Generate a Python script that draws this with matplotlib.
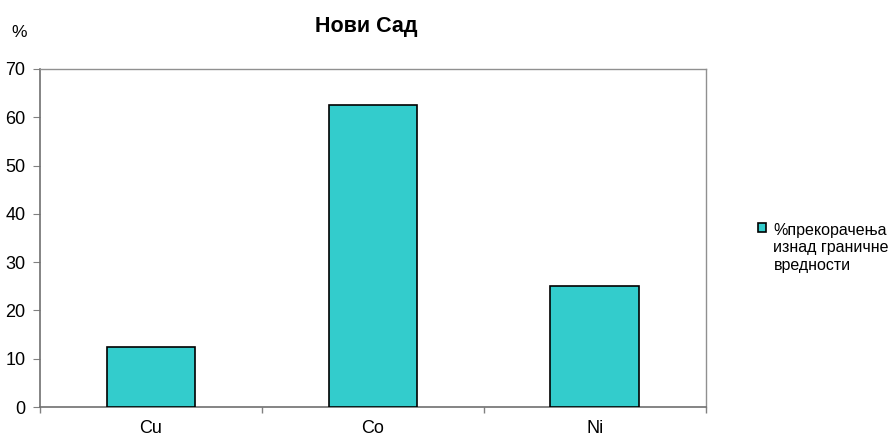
import matplotlib
matplotlib.use("Agg")
import matplotlib.pyplot as plt
import numpy as np

plt.rcParams['font.family'] = ['Liberation Sans', 'DejaVu Sans']

metals = ["Cu", "Co", "Ni"]
exceed = [12.5, 62.5, 25.0]
series_name = "%прекорачења\nизнад граничне\nвредности"

fig = plt.figure(figsize=(8.89, 4.34), dpi=100)
ax = fig.add_axes([0.045, 0.0622, 0.749, 0.779])

x = np.arange(len(metals))
ax.bar(x, exceed, width=0.4, color="#33CCCC", edgecolor="black", linewidth=1.2,
       label=series_name, zorder=3)

ax.set_xlim(-0.5, 2.5)
ax.set_ylim(0, 70)
ax.set_yticks(range(0, 71, 10))
ax.set_xticks(x)
ax.set_xticklabels(metals, fontsize=13)
ax.set_xticks(np.arange(-0.5, 2.6, 1), minor=True)
ax.tick_params(axis="x", which="major", length=0, pad=9)
ax.tick_params(axis="x", which="minor", length=4.5, color="#808080", width=1)
ax.tick_params(axis="y", length=5, color="#808080", labelsize=13, pad=5.5)

for side in ["left", "bottom"]:
    ax.spines[side].set_color("#707070")
    ax.spines[side].set_linewidth(1.2)
for side in ["top", "right"]:
    ax.spines[side].set_color("#909090")
    ax.spines[side].set_linewidth(1.0)

fig.text(0.412, 0.94, "Нови Сад", fontsize=15.5, fontweight="bold", ha="center", va="center")
fig.text(0.022, 0.924, "%", fontsize=12.5, ha="center", va="center")

leg = fig.legend(loc="center left", bbox_to_anchor=(0.853, 0.429), frameon=False,
                 fontsize=11.5, handlelength=0.5, handleheight=0.5, handletextpad=0.45,
                 borderpad=0, borderaxespad=0, labelspacing=0)
# put the square next to the first line of the label
for col in leg._legend_handle_box.get_children():
    for row in col.get_children():
        row.align = "top"

fig.savefig("out.png", dpi=100)
plt.close()
